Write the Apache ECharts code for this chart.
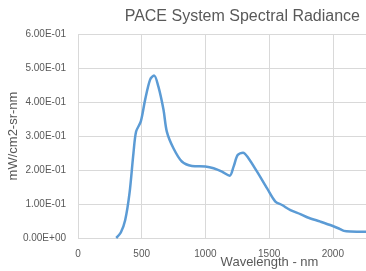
<!DOCTYPE html>
<html>
<head>
<meta charset="utf-8">
<script src="https://cdn.jsdelivr.net/npm/echarts@6/dist/echarts.min.js"></script>
<style>
  html, body { margin: 0; padding: 0; background: #fff; }
  #chart { width: 366px; height: 271px; }
</style>
</head>
<body>
<div id="chart"></div>
<script>
var wavelength = [300, 336, 370, 404, 435, 456, 493, 527, 566, 597, 631, 671, 697, 749, 815, 894,
    1000, 1064, 1130, 1190, 1221, 1253, 1295, 1339, 1405, 1484, 1549, 1601, 1667, 1745, 1798,
    1903, 1995, 2047, 2087, 2139, 2264];
var radiance = [0, 0.016, 0.052, 0.131, 0.249, 0.313, 0.343, 0.407, 0.466, 0.478, 0.445, 0.377,
    0.313, 0.264, 0.225, 0.212, 0.210, 0.205, 0.195, 0.183, 0.210, 0.244, 0.251, 0.234, 0.195,
    0.146, 0.107, 0.097, 0.082, 0.070, 0.061, 0.048, 0.036, 0.028, 0.021, 0.019, 0.018];
var yTicks = [0, 0.1, 0.2, 0.3, 0.4, 0.5, 0.6];
var xTicks = [0, 500, 1000, 1500, 2000];

var points = [];
for (var i = 0; i < wavelength.length; i++) {
    points.push([wavelength[i], radiance[i]]);
}

// Excel style scientific labels, e.g. 6.00E-01
function sci(v) {
    if (v === 0) return '0.00E+00';
    var s = v.toExponential(2).toUpperCase();
    var parts = s.split('E');
    var exp = parseInt(parts[1], 10);
    var sign = exp < 0 ? '-' : '+';
    var e = Math.abs(exp);
    return parts[0] + 'E' + sign + (e < 10 ? '0' + e : e);
}

var myChart = echarts.init(document.getElementById('chart'));
var font = 'Liberation Sans';
var option = {
    animation: false,
    title: {
        text: 'PACE System Spectral Radiance',
        right: 1,
        top: 4,
        textStyle: { fontFamily: font, fontSize: 16, fontWeight: 'normal', color: '#595959' }
    },
    grid: { left: 78, right: 0, top: 34, bottom: 33, outerBoundsMode: 'none', containLabel: false },
    xAxis: {
        type: 'value',
        min: 0,
        max: 2260,
        interval: 500,
        name: 'Wavelength - nm',
        nameLocation: 'middle',
        nameGap: 18,
        nameMoveOverlap: false,
        nameTextStyle: { fontFamily: font, fontSize: 13, color: '#595959', padding: [0, 0, 0, 95] },
        axisLine: { show: false },
        axisTick: { show: false },
        axisLabel: {
            fontFamily: font, fontSize: 10, color: '#595959', margin: 11, showMaxLabel: false,
            formatter: function (v) { return xTicks.indexOf(v) >= 0 ? String(v) : ''; }
        },
        splitLine: { show: true, lineStyle: { color: '#d9d9d9', width: 1 } }
    },
    yAxis: {
        type: 'value',
        min: 0,
        max: 0.6,
        interval: 0.1,
        name: 'mW/cm2-sr-nm',
        nameLocation: 'middle',
        nameGap: 58,
        nameMoveOverlap: false,
        nameTextStyle: { fontFamily: font, fontSize: 13, color: '#595959' },
        axisLine: { show: false },
        axisTick: { show: false },
        axisLabel: {
            fontFamily: font, fontSize: 10, color: '#595959', margin: 12,
            formatter: function (v) {
                for (var k = 0; k < yTicks.length; k++) {
                    if (Math.abs(yTicks[k] - v) < 1e-9) return sci(yTicks[k]);
                }
                return '';
            }
        },
        splitLine: { show: true, lineStyle: { color: '#d9d9d9', width: 1 } }
    },
    series: [{
        type: 'line',
        data: points,
        smooth: 0.3,
        symbol: 'none',
        lineStyle: { color: '#5b9bd5', width: 2.5 }
    }]
};
myChart.setOption(option);
</script>
</body>
</html>
